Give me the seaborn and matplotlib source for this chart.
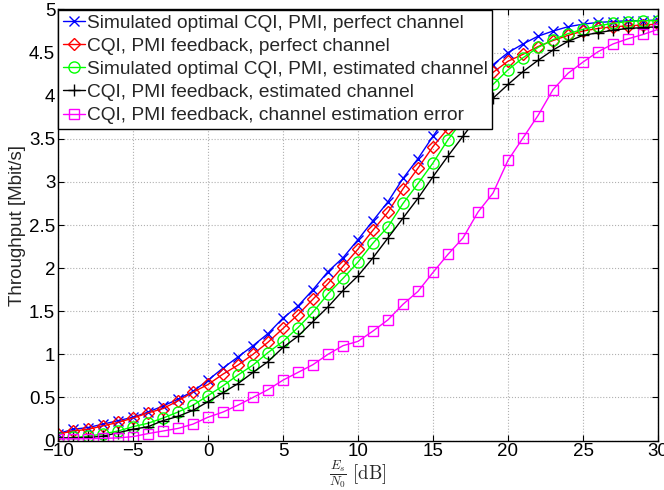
import numpy as np
import pandas as pd
import matplotlib
matplotlib.use("Agg")
import matplotlib.pyplot as plt
import seaborn as sns

# Es/N0 axis in dB
snr_db = list(range(-10, 31))

opt_perfect = [0.08, 0.13, 0.15, 0.19, 0.23, 0.27, 0.33, 0.40, 0.48, 0.57, 0.70,
               0.84, 0.97, 1.10, 1.24, 1.42, 1.56, 1.75, 1.96, 2.12, 2.33,
               2.55, 2.77, 3.04, 3.27, 3.53, 3.78, 4.00, 4.20, 4.36, 4.50,
               4.60, 4.69, 4.75, 4.80, 4.83, 4.85, 4.86, 4.87, 4.87, 4.88]
fb_perfect = [0.075, 0.11, 0.13, 0.17, 0.21, 0.26, 0.32, 0.37, 0.46, 0.56, 0.65,
              0.77, 0.875, 1.00, 1.14, 1.30, 1.46, 1.64, 1.82, 2.02, 2.22,
              2.44, 2.65, 2.92, 3.16, 3.41, 3.62, 3.85, 4.07, 4.27, 4.40,
              4.48, 4.57, 4.64, 4.70, 4.75, 4.78, 4.80, 4.81, 4.82, 4.83]
opt_estimated = [0.03, 0.035, 0.05, 0.075, 0.11, 0.16, 0.20, 0.26, 0.33, 0.41, 0.52,
                 0.635, 0.76, 0.875, 1.02, 1.15, 1.31, 1.49, 1.70, 1.88, 2.07,
                 2.29, 2.48, 2.75, 2.98, 3.22, 3.49, 3.72, 3.93, 4.13, 4.30,
                 4.44, 4.56, 4.65, 4.72, 4.77, 4.81, 4.84, 4.86, 4.87, 4.87]
fb_estimated = [0.03, 0.03, 0.035, 0.05, 0.09, 0.13, 0.16, 0.23, 0.28, 0.35, 0.45,
                0.555, 0.66, 0.79, 0.915, 1.08, 1.21, 1.38, 1.55, 1.74, 1.91,
                2.12, 2.35, 2.58, 2.81, 3.06, 3.30, 3.53, 3.76, 3.97, 4.13,
                4.28, 4.41, 4.53, 4.63, 4.70, 4.73, 4.76, 4.78, 4.79, 4.80]
fb_est_error = [0.02, 0.02, 0.02, 0.025, 0.03, 0.045, 0.08, 0.11, 0.14, 0.19, 0.27,
                0.33, 0.41, 0.50, 0.59, 0.70, 0.79, 0.88, 1.00, 1.10, 1.15,
                1.27, 1.40, 1.58, 1.73, 1.95, 2.16, 2.35, 2.65, 2.87, 3.25,
                3.51, 3.77, 4.07, 4.26, 4.39, 4.51, 4.60, 4.66, 4.71, 4.77]

labels = ["Simulated optimal CQI, PMI, perfect channel",
          "CQI, PMI feedback, perfect channel",
          "Simulated optimal CQI, PMI, estimated channel",
          "CQI, PMI feedback, estimated channel",
          "CQI, PMI feedback, channel estimation error"]

sns.set_style("ticks")
plt.rcParams['font.family'] = ['Liberation Sans', 'DejaVu Sans']
plt.rcParams['mathtext.fontset'] = 'cm'

fig = plt.figure(figsize=(6.64, 4.9), dpi=100)
ax = fig.add_axes([58 / 664, 49.5 / 490, 600 / 664, 431 / 490])

series = [opt_perfect, fb_perfect, opt_estimated, fb_estimated, fb_est_error]
colors = ['#0000ff', '#ff0000', '#00ff00', '#000000', '#ff00ff']
markers = ['x', 'D', 'o', '+', 's']
msizes = [7.5, 6.5, 8, 9, 6.5]

for vals, col, mk, ms, lab in zip(series, colors, markers, msizes, labels):
    sns.lineplot(x=snr_db, y=vals, ax=ax, color=col, marker=mk, markersize=ms,
                 markerfacecolor='none', markeredgecolor=col, markeredgewidth=1.0,
                 linewidth=1.0, label=lab)

ax.set_xlim(-10, 30)
ax.set_ylim(0, 5)
ax.set_xticks(range(-10, 31, 5))
ax.set_xticklabels(['\u221210', '\u22125', '0', '5', '10', '15', '20', '25', '30'])
ax.set_yticks(np.arange(0, 5.01, 0.5))
ax.set_yticklabels(['0', '0.5', '1', '1.5', '2', '2.5', '3', '3.5', '4', '4.5', '5'])
ax.tick_params(direction='in', length=4, width=0.8, top=True, right=True,
               labelsize=13.5, colors='black', pad=2)
for sp in ax.spines.values():
    sp.set_visible(True)
    sp.set_color('black')
    sp.set_linewidth(1.0)
ax.grid(True, linestyle=':', color='#b0b0b0', linewidth=0.8)

ax.set_xlabel(r'$\frac{E_s}{N_0}\ \mathrm{[dB]}$', fontsize=13.5, labelpad=-1.5)
ax.set_ylabel('Throughput [Mbit/s]', fontsize=13.5, labelpad=2)

leg = ax.legend(loc='upper left', fontsize=13.8, frameon=True, fancybox=False,
                framealpha=1, edgecolor='black', borderpad=0.25, labelspacing=0.3,
                handlelength=1.15, handletextpad=0.1, borderaxespad=0.0)
leg.get_frame().set_linewidth(1.0)

fig.savefig('out.png', dpi=100)
